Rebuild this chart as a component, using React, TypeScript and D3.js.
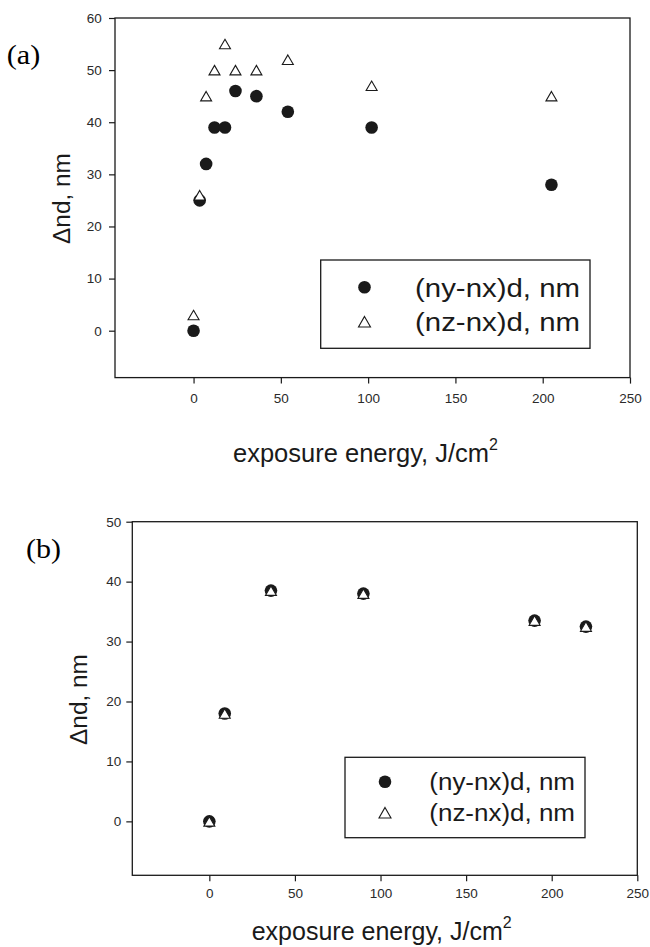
import React, { useEffect, useRef } from 'react';
import * as d3 from 'd3';

// panel (a)
const energyA = [0, 3.5, 7.2, 12, 18, 24, 36, 54, 102, 205];
const nyNxA = [0, 25, 32, 39, 39, 46, 45, 42, 39, 28];
const nzNxA = [3, 26, 45, 50, 55, 50, 50, 52, 47, 45];

// panel (b)
const energyB = [0, 9, 36, 90, 190, 220];
const nyNxB = [0, 18, 38.5, 38, 33.5, 32.5];
const nzNxB = [0, 18, 38.5, 38, 33.5, 32.5];

const xTicks = [0, 50, 100, 150, 200, 250];
const yTicksA = [0, 10, 20, 30, 40, 50, 60];
const yTicksB = [0, 10, 20, 30, 40, 50];
const seriesNames = ['(ny-nx)d, nm', '(nz-nx)d, nm'];

const SANS = '"Liberation Sans", Arial, Helvetica, sans-serif';
const SERIF = '"Liberation Serif", "Times New Roman", serif';
const INK = '#1a1a1a';

const triPath = (w: number, h: number) =>
  `M0,${-h / 2}L${w / 2},${h / 2}L${-w / 2},${h / 2}Z`;

const panels = [
  {
    tag: '(a)', tagX: 6.7, tagY: 64, tagLen: 33.5,
    energy: energyA, ny: nyNxA, nz: nzNxA,
    xDomain: [-45, 250], xRange: [115, 630],
    yDomain: [-9, 60], yRange: [377.6, 18], yTicks: yTicksA,
    xPad: 9.5, yPad: 7.3,
    xLabelX: 233, xLabelY: 461.7, xLabelFs: 25.5,
    yLabelX: 70, yLabelY: 198.5,
    legend: { x: 320.7, y: 260, w: 269.3, h: 88.3, mx: 364.5, textX: 415, textLen: 165, rows: [297.3, 330.7], marks: [287.3, 321.7], fs: 26 },
  },
  {
    tag: '(b)', tagX: 26, tagY: 558, tagLen: 35,
    energy: energyB, ny: nyNxB, nz: nzNxB,
    xDomain: [-45, 250], xRange: [132.3, 637.3],
    yDomain: [-9, 50], yRange: [875.3, 521.7], yTicks: yTicksB,
    xPad: 7, yPad: 5,
    xLabelX: 251.7, xLabelY: 940, xLabelFs: 25,
    yLabelX: 87.3, yLabelY: 699.5,
    legend: { x: 345, y: 757.3, w: 240, h: 80.4, mx: 385, textX: 429.3, textLen: 145.7, rows: [790, 821], marks: [781.7, 812.7], fs: 23 },
  },
];

export default function App() {
  const svgRef = useRef<SVGSVGElement>(null);

  useEffect(() => {
    const svg = d3.select(svgRef.current);
    svg.selectAll('*').remove();

    panels.forEach(p => {
      const x = d3.scaleLinear().domain(p.xDomain).range(p.xRange);
      const y = d3.scaleLinear().domain(p.yDomain).range(p.yRange);
      const g = svg.append('g');

      // frame
      g.append('rect')
        .attr('x', p.xRange[0]).attr('y', p.yRange[1])
        .attr('width', p.xRange[1] - p.xRange[0])
        .attr('height', p.yRange[0] - p.yRange[1])
        .attr('fill', 'none').attr('stroke', INK).attr('stroke-width', 1.3);

      // axes
      const xAxis = g.append('g')
        .attr('transform', `translate(0,${p.yRange[0]})`)
        .call(d3.axisBottom(x).tickValues(xTicks).tickSize(6).tickPadding(p.xPad));
      const yAxis = g.append('g')
        .attr('transform', `translate(${p.xRange[0]},0)`)
        .call(d3.axisLeft(y).tickValues(p.yTicks).tickSize(6).tickPadding(p.yPad));
      [xAxis, yAxis].forEach(a => {
        a.select('.domain').remove();
        a.selectAll('line').attr('stroke', INK).attr('stroke-width', 1.2);
        a.selectAll('text')
          .attr('fill', '#2a2a2a')
          .style('font-family', SANS)
          .style('font-size', '13.5px');
      });

      // points: filled circles then open triangles
      g.append('g').selectAll('circle')
        .data(p.energy.map((e, i) => [e, p.ny[i]]))
        .join('circle')
        .attr('cx', d => x(d[0])).attr('cy', d => y(d[1]))
        .attr('r', 6.3).attr('fill', INK);
      g.append('g').selectAll('path')
        .data(p.energy.map((e, i) => [e, p.nz[i]]))
        .join('path')
        .attr('transform', d => `translate(${x(d[0])},${y(d[1])})`)
        .attr('d', triPath(11, 9.5))
        .attr('fill', '#fff').attr('stroke', INK).attr('stroke-width', 1.1);

      // legend
      const L = p.legend;
      g.append('rect')
        .attr('x', L.x).attr('y', L.y).attr('width', L.w).attr('height', L.h)
        .attr('fill', '#fff').attr('stroke', INK).attr('stroke-width', 1.3);
      g.append('circle').attr('cx', L.mx).attr('cy', L.marks[0]).attr('r', 6.3).attr('fill', INK);
      g.append('path')
        .attr('transform', `translate(${L.mx},${L.marks[1]})`)
        .attr('d', triPath(12, 10.5))
        .attr('fill', '#fff').attr('stroke', INK).attr('stroke-width', 1.1);
      seriesNames.forEach((name, i) => {
        g.append('text')
          .attr('x', L.textX).attr('y', L.rows[i])
          .attr('textLength', L.textLen).attr('lengthAdjust', 'spacingAndGlyphs')
          .style('font-family', SANS).style('font-size', `${L.fs}px`)
          .attr('fill', INK)
          .text(name);
      });

      // axis titles
      const xl = g.append('text')
        .attr('x', p.xLabelX).attr('y', p.xLabelY)
        .style('font-family', SANS).style('font-size', `${p.xLabelFs}px`)
        .attr('fill', INK);
      xl.append('tspan').text('exposure energy, J/cm');
      xl.append('tspan').attr('dy', -12).style('font-size', '16px').text('2');

      g.append('text')
        .attr('transform', `translate(${p.yLabelX},${p.yLabelY}) rotate(-90)`)
        .attr('text-anchor', 'middle')
        .style('font-family', SANS).style('font-size', '24.4px')
        .attr('fill', INK)
        .text('Δnd, nm');

      // panel tag
      g.append('text')
        .attr('x', p.tagX).attr('y', p.tagY)
        .attr('textLength', p.tagLen).attr('lengthAdjust', 'spacingAndGlyphs')
        .style('font-family', SERIF).style('font-size', '27px')
        .attr('fill', '#000')
        .text(p.tag);
    });
  }, []);

  return (
    <svg
      ref={svgRef}
      width={650}
      height={947}
      style={{ position: 'absolute', left: 0, top: 0, background: '#fff' }}
    />
  );
}
